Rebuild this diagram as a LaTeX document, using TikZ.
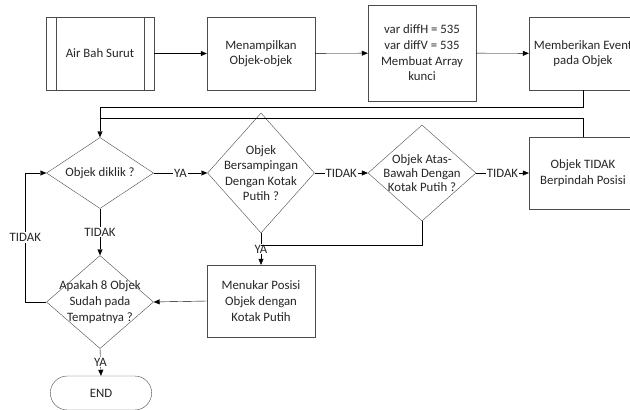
\documentclass[tikz,border=0pt]{standalone}
\usepackage{fontspec}
\setmainfont{Carlito}
\usetikzlibrary{shapes.geometric,shapes.misc,arrows.meta}
\tikzset{
	proc/.style={draw=black!70, fill=white, minimum width=108pt, minimum height=73pt, align=center, inner sep=1pt},
	dec/.style={draw=black!70, fill=white, diamond, inner sep=0pt},
	term/.style={draw=black!70, fill=white, rounded rectangle, minimum width=108pt, minimum height=34pt},
	txt/.style={align=center, inner sep=0pt},
	lbl/.style={fill=white, inner sep=1pt},
	arr/.style={-{Triangle[length=6pt,width=5pt]}},
}
\begin{document}
\begin{tikzpicture}[x=1pt,y=1pt,yscale=-1,font=\fontsize{12.8}{15.6}\selectfont,text=black!85]
	\useasboundingbox (0,0) rectangle (630,410);
	\clip (0,0) rectangle (630,410);
	% top row
	\node[proc] (start) at (100,53.5) {Air Bah Surut};
	\draw[black!70] ([xshift=10pt]start.north west) -- ([xshift=10pt]start.south west);
	\draw[black!70] ([xshift=-10pt]start.north east) -- ([xshift=-10pt]start.south east);
	\node[proc] (show) at (261,53.5) {Menampilkan\\Objek-objek};
	\node[proc, minimum height=96pt] (init) at (422,53) {var diffH = 535\\var diffV = 535\\Membuat Array\\kunci};
	\node[proc] (event) at (583,53.5) {Memberikan Event\\pada Objek};
	% decisions
	\node[dec, minimum width=107pt, minimum height=71pt] (click) at (100,173) {};
	\node[txt] at (click) {Objek diklik ?};
	\node[dec, minimum width=107pt, minimum height=120pt] (side) at (261,173) {};
	\node[txt] at (side) {Objek\\Bersampingan\\Dengan Kotak\\Putih ?};
	\node[dec, minimum width=108pt, minimum height=96pt] (updown) at (422,173) {};
	\node[txt, font=\fontsize{12.8}{13.8}\selectfont] at (updown) {Objek Atas-\\Bawah Dengan\\Kotak Putih ?};
	\node[proc, minimum height=72pt] (stay) at (583,173) {Objek TIDAK\\Berpindah Posisi};
	\node[proc, minimum height=72pt] (swap) at (261,301) {Menukar Posisi\\Objek dengan\\Kotak Putih};
	\node[dec, minimum width=107pt, minimum height=93pt] (done) at (100,302) {};
	\node[txt] at (done) {Apakah 8 Objek\\Sudah pada\\Tempatnya ?};
	\node[term] (end) at (101,393) {END};
	% loop points
	\coordinate (loopA) at (100,107);
	\coordinate (loopB) at (100,118);
	\coordinate (joinY) at (261,245);
	% connectors
	\draw[arr] (start) -- (show);
	\draw[arr] (show) -- (init);
	\draw[arr] (init) -- (event);
	\draw[arr] (event.south) |- (loopA) -- (click.north);
	\draw (stay.north) |- (loopB);
	\draw[arr] (click.east) -- node[lbl]{YA} (side.west);
	\draw[arr] (side.east) -- node[lbl]{TIDAK} (updown.west);
	\draw[arr] (updown.east) -- node[lbl]{TIDAK} (stay.west);
	\draw[arr] (side.south) -- node[lbl]{YA} (swap.north);
	\draw (updown.south) |- (joinY);
	\draw[arr] (swap.west) -- (done.east);
	\draw[arr] (click.south) -- node[lbl]{TIDAK} (done.north);
	\draw[arr] (done.west) -- ++(-21,0) |- node[lbl, pos=0.25]{TIDAK} (click.west);
	\draw[arr] (done.south) -- node[lbl]{YA} (end.north);
\end{tikzpicture}
\end{document}
